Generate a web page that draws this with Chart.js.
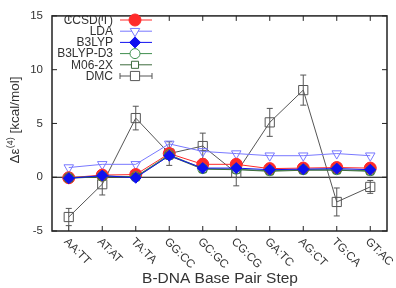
<!DOCTYPE html>
<html>
<head>
<meta charset="utf-8">
<script src="https://cdn.jsdelivr.net/npm/chart.js@4.4.1/dist/chart.umd.min.js"></script>
<style>
  html, body { margin: 0; padding: 0; background: #fff; }
  #wrap { width: 396px; height: 288px; }
</style>
</head>
<body>
<div id="wrap"><canvas id="dna-chart" width="396" height="288"></canvas></div>
<script>
// data
var steps = ["AA:TT", "AT:AT", "TA:TA", "GG:CC", "GC:GC", "CG:CG", "GA:TC", "AG:CT", "TG:CA", "GT:AC"];
var ccsdVals  = [-0.05, 0.2, 0.25, 2.2, 1.2, 1.2, 0.8, 0.85, 0.9, 0.85];
var ldaVals   = [0.9, 1.2, 1.2, 3.1, 2.4, 2.2, 2.0, 2.0, 2.2, 2.0];
var b3lypVals = [-0.1, 0.15, -0.05, 2.0, 0.85, 0.85, 0.7, 0.75, 0.8, 0.7];
var b3d3Vals  = [-0.05, 0.1, 0.05, 2.1, 0.8, 0.75, 0.6, 0.7, 0.7, 0.6];
var m06Vals   = [-0.1, 0.05, 0.0, 2.0, 0.75, 0.7, 0.55, 0.65, 0.65, 0.55];
var dmcVals   = [-3.7, -0.65, 5.5, 2.2, 2.9, 0.4, 5.1, 8.1, -2.3, -0.9];
var dmcErr    = [0.8, 1.0, 1.1, 1.1, 1.2, 1.2, 1.3, 1.4, 1.3, 0.6];
var yTicks    = [-5, 0, 5, 10, 15];

var FONT = "'Liberation Sans', Arial, Helvetica, sans-serif";
var TXT = "#333";

var series = [
    { label: "CCSD(T)",  data: ccsdVals,  color: "#ff2a2a", style: "circle",   radius: 6,   fill: true,  rot: 0,   width: 1 },
    { label: "LDA",      data: ldaVals,   color: "#7878ff", style: "triangle", radius: 5.5, fill: false, rot: 180, width: 1 },
    { label: "B3LYP",    data: b3lypVals, color: "#1010f0", style: "rectRot",  radius: 5.5, fill: true,  rot: 0,   width: 1 },
    { label: "B3LYP-D3", data: b3d3Vals,  color: "#3f8f4f", style: "circle",   radius: 5,   fill: false, rot: 0,   width: 1 },
    { label: "M06-2X",   data: m06Vals,   color: "#3d6b3d", style: "rect",     radius: 5,   fill: false, rot: 0,   width: 1 },
    { label: "DMC",      data: dmcVals,   color: "#555555", style: "rect",     radius: 6.5, fill: false, rot: 0,   width: 1, err: dmcErr }
];

// drawing order: DMC at the back, B3LYP on top
var drawOrder = { "CCSD(T)": 3, "LDA": 4, "B3LYP": 0, "B3LYP-D3": 2, "M06-2X": 1, "DMC": 5 };

var datasets = series.map(function (s) {
    return {
        label: s.label,
        data: s.data,
        borderColor: s.color,
        backgroundColor: s.fill ? s.color : "rgba(255,255,255,0)",
        borderWidth: s.width,
        pointStyle: s.style,
        pointRadius: s.radius,
        pointRotation: s.rot,
        pointBorderColor: s.color,
        pointBackgroundColor: s.fill ? s.color : "rgba(255,255,255,0)",
        pointBorderWidth: 1,
        tension: 0,
        order: drawOrder[s.label]
    };
});

var decorPlugin = {
    id: "decor",
    beforeDatasetsDraw: function (chart) {
        var ctx = chart.ctx, a = chart.chartArea;
        var xs = chart.scales.x, ys = chart.scales.y;
        // zero line
        ctx.save();
        ctx.strokeStyle = "#000";
        ctx.lineWidth = 1.2;
        ctx.beginPath();
        ctx.moveTo(a.left, ys.getPixelForValue(0));
        ctx.lineTo(a.right, ys.getPixelForValue(0));
        ctx.stroke();
        // error bars
        series.forEach(function (s) {
            if (!s.err) return;
            ctx.strokeStyle = s.color;
            ctx.lineWidth = 1;
            for (var i = 0; i < s.data.length; i++) {
                var x = xs.getPixelForValue(i);
                var y1 = ys.getPixelForValue(s.data[i] + s.err[i]);
                var y2 = ys.getPixelForValue(s.data[i] - s.err[i]);
                ctx.beginPath();
                ctx.moveTo(x, y1); ctx.lineTo(x, y2);
                ctx.moveTo(x - 3, y1); ctx.lineTo(x + 3, y1);
                ctx.moveTo(x - 3, y2); ctx.lineTo(x + 3, y2);
                ctx.stroke();
            }
        });
        ctx.restore();
    },
    afterDraw: function (chart) {
        var ctx = chart.ctx, a = chart.chartArea;
        var xs = chart.scales.x, ys = chart.scales.y;
        ctx.save();
        // frame
        ctx.strokeStyle = "#222";
        ctx.lineWidth = 1.5;
        ctx.strokeRect(a.left, a.top, a.right - a.left, a.bottom - a.top);
        // ticks, inward on all sides
        ctx.lineWidth = 1;
        ctx.beginPath();
        for (var i = 0; i < steps.length; i++) {
            var x = xs.getPixelForValue(i);
            ctx.moveTo(x, a.bottom); ctx.lineTo(x, a.bottom - 5);
            ctx.moveTo(x, a.top); ctx.lineTo(x, a.top + 5);
        }
        yTicks.forEach(function (v) {
            var y = ys.getPixelForValue(v);
            ctx.moveTo(a.left, y); ctx.lineTo(a.left + 5, y);
            ctx.moveTo(a.right, y); ctx.lineTo(a.right - 5, y);
        });
        ctx.stroke();

        // category labels, rotated down to the right
        ctx.fillStyle = TXT;
        ctx.font = "11.5px " + FONT;
        ctx.textAlign = "left";
        ctx.textBaseline = "middle";
        for (var j = 0; j < steps.length; j++) {
            var lx = xs.getPixelForValue(j) - 3;
            ctx.save();
            ctx.translate(lx, a.bottom + 9);
            ctx.rotate(Math.PI / 4);
            ctx.fillText(steps[j], 0, 0);
            ctx.restore();
        }

        // x title
        ctx.font = "15.5px " + FONT;
        ctx.textAlign = "center";
        ctx.textBaseline = "alphabetic";
        ctx.fillText("B-DNA Base Pair Step", 220, 283);

        // y title with superscript
        ctx.save();
        ctx.translate(19, 120);
        ctx.rotate(-Math.PI / 2);
        ctx.textAlign = "left";
        var p1 = "\u0394\u03b5", sup = "(4)", p2 = " [kcal/mol]";
        ctx.font = "13.5px " + FONT;
        var w1 = ctx.measureText(p1).width, w3 = ctx.measureText(p2).width;
        ctx.font = "9px " + FONT;
        var w2 = ctx.measureText(sup).width;
        var sx = -(w1 + w2 + w3) / 2;
        ctx.font = "13.5px " + FONT;
        ctx.fillText(p1, sx, 0);
        ctx.font = "9px " + FONT;
        ctx.fillText(sup, sx + w1, -6);
        ctx.font = "13.5px " + FONT;
        ctx.fillText(p2, sx + w1 + w2, 0);
        ctx.restore();

        // legend
        ctx.font = "12px " + FONT;
        ctx.textAlign = "right";
        ctx.textBaseline = "middle";
        for (var k = 0; k < series.length; k++) {
            var s = series[k];
            var ly = 20 + k * 11.2;
            ctx.fillStyle = TXT;
            ctx.fillText(s.label, 113, ly + 0.5);
            ctx.strokeStyle = s.color;
            ctx.lineWidth = 1;
            ctx.beginPath();
            ctx.moveTo(120, ly); ctx.lineTo(152, ly);
            if (s.err) {
                ctx.moveTo(120, ly - 3); ctx.lineTo(120, ly + 3);
                ctx.moveTo(152, ly - 3); ctx.lineTo(152, ly + 3);
            }
            ctx.stroke();
            ctx.fillStyle = s.fill ? s.color : "#fff";
            ctx.strokeStyle = s.color;
            Chart.helpers.drawPoint(ctx, {
                pointStyle: s.style,
                radius: s.radius,
                rotation: s.rot,
                borderWidth: 1
            }, 135, ly);
        }
        ctx.restore();
    }
};

var chartCtx = document.getElementById("dna-chart");
var dnaChart = new Chart(chartCtx, {
    type: "line",
    data: { labels: steps, datasets: datasets },
    plugins: [decorPlugin],
    options: {
        responsive: false,
        animation: false,
        devicePixelRatio: 1,
        layout: { padding: { top: 9, right: 9, left: 0, bottom: 0 } },
        plugins: { legend: { display: false }, tooltip: { enabled: false } },
        scales: {
            x: {
                type: "category",
                offset: true,
                grid: { display: false, drawTicks: false },
                border: { display: false },
                ticks: { display: false },
                afterFit: function (scale) { scale.height = 57; }
            },
            y: {
                min: -5,
                max: 15,
                grid: { display: false, drawTicks: false },
                border: { display: false },
                ticks: {
                    stepSize: 5,
                    padding: 9,
                    color: TXT,
                    font: { family: FONT, size: 11.5 }
                },
                afterFit: function (scale) { scale.width = 52; }
            }
        }
    }
});
</script>
</body>
</html>
